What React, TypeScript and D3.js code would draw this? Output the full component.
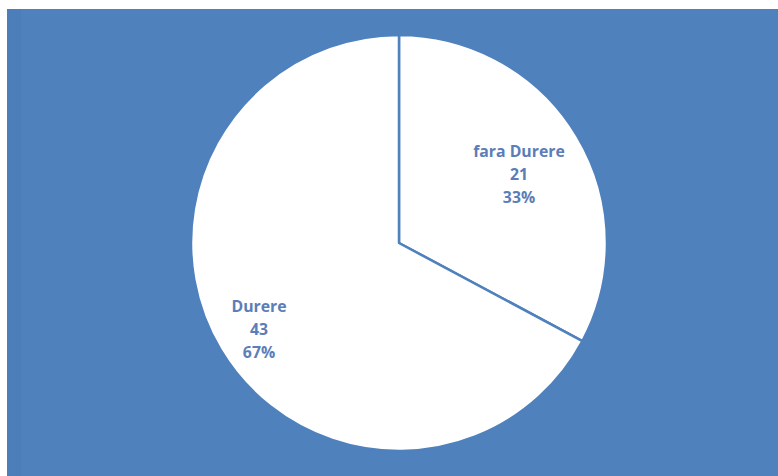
import React from "react";
import * as d3 from "d3";

const categories = ["fara Durere", "Durere"];
const values = [21, 43];
const percents = ["33%", "67%"];

export default function App() {
  const W = 778, H = 476;
  const cx = 399, cy = 243, r = 208;
  const pie = d3.pie<number>().sort(null).value((d) => d);
  const arcs = pie(values);
  const arc = d3.arc<d3.PieArcDatum<number>>().innerRadius(0).outerRadius(r);
  const labelX = [519, 259];
  const labelY = [156.5, 312];
  return (
    <svg width={W} height={H} style={{ position: "absolute", left: 0, top: 0 }}>
      <rect x={7} y={9} width={W - 7} height={H - 9} fill="#4F81BD" />
      <rect x={7} y={9} width={14} height={H - 9} fill="#4A7BB6" opacity={0.5} />
      <g transform={`translate(${cx},${cy})`}>
        {arcs.map((a, i) => (
          <path key={i} d={arc(a) || ""} fill="#FFFFFF" stroke="#4F81BD" strokeWidth={2.5} strokeLinejoin="round" />
        ))}
      </g>
      {arcs.map((a, i) => {
        const x = labelX[i];
        const y = labelY[i];
        return (
          <text key={i} x={x} y={y} textAnchor="middle" fontFamily="'Open Sans', sans-serif" fontWeight={700} fontSize={15.8} fill="#5B7DB8">
            <tspan x={x} dy={0}>{categories[i]}</tspan>
            <tspan x={x} dy={23.2}>{values[i]}</tspan>
            <tspan x={x} dy={23.2}>{percents[i]}</tspan>
          </text>
        );
      })}
    </svg>
  );
}
